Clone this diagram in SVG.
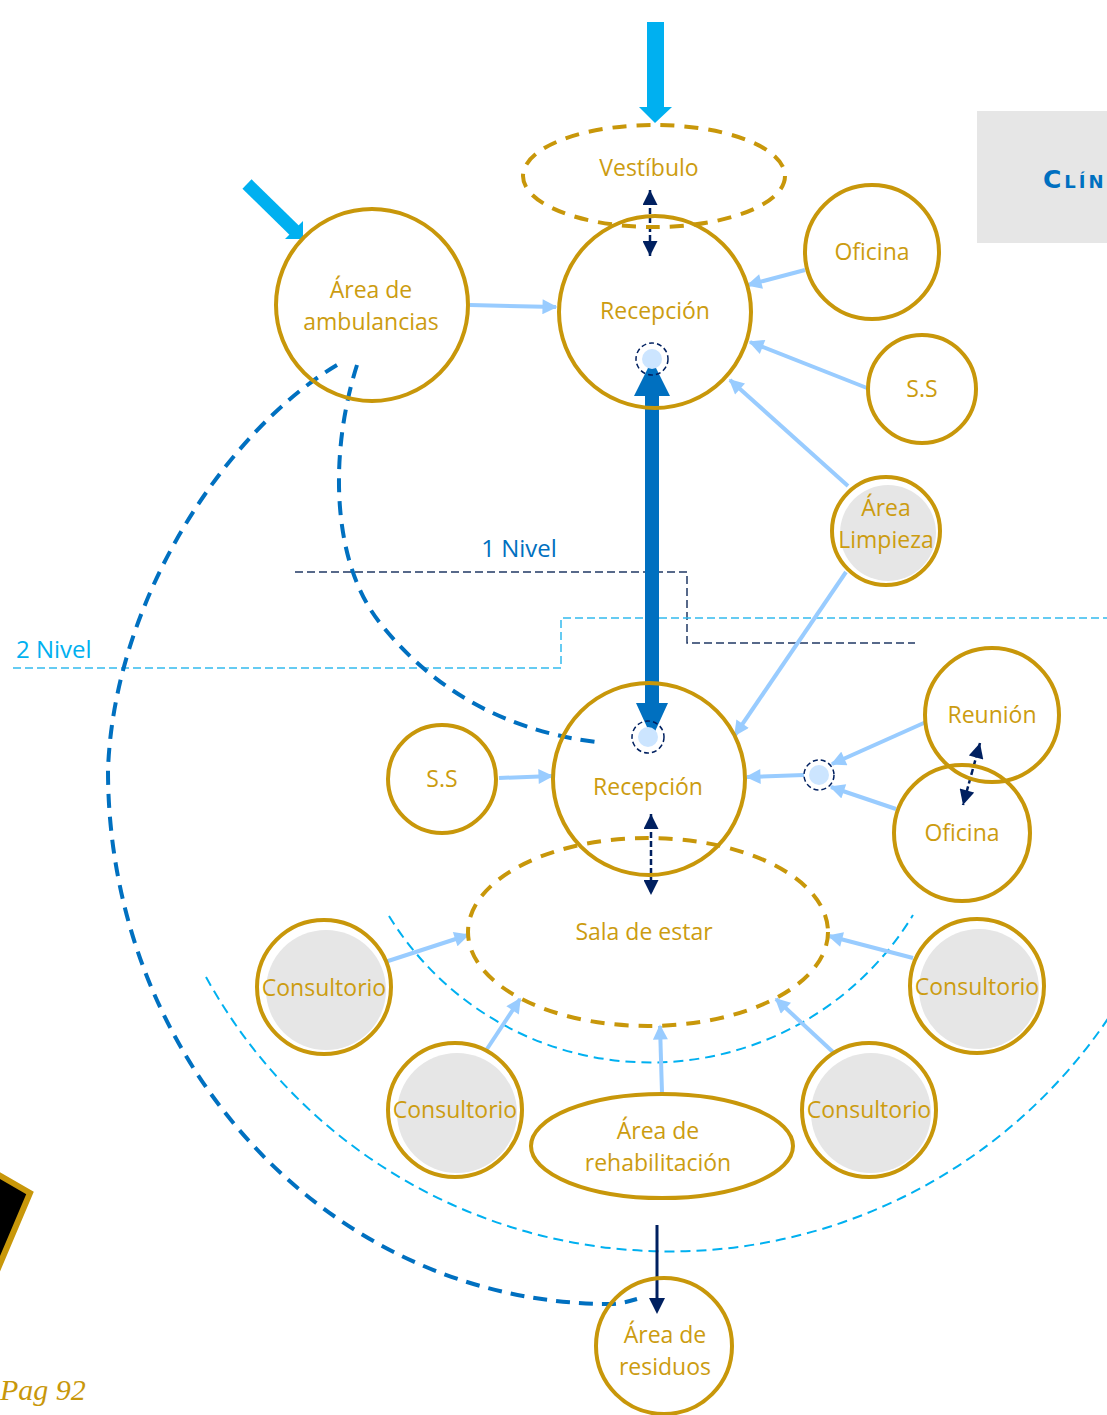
<svg xmlns="http://www.w3.org/2000/svg" width="1107" height="1415" viewBox="0 0 1107 1415">
<style>
.n{fill:none;stroke:#C8970A;stroke-width:4}
.nd{fill:none;stroke:#C8970A;stroke-width:4;stroke-dasharray:14 10}
.g{fill:#E6E6E6}
.t{font-family:"Open Sans","Noto Sans",sans-serif;font-size:23px;fill:#CC9C10;text-anchor:middle}
.lb{fill:none;stroke:#99CCFF;stroke-width:4;marker-end:url(#mlb)}
.nv{fill:none;stroke:#002060;stroke-width:2.5;stroke-dasharray:6 3;marker-start:url(#mnv);marker-end:url(#mnv)}
.tg{fill:none;stroke:#002060;stroke-width:1.5;stroke-dasharray:5 3}
.tf{fill:#CCE5FF}
.arcD{fill:none;stroke:#0070C0;stroke-width:4;stroke-dasharray:14 9}
.arcC{fill:none;stroke:#00B0F0;stroke-width:2;stroke-dasharray:10 6}
</style>
<defs>
<marker id="mlb" viewBox="0 0 10 10" refX="9" refY="5" markerWidth="16" markerHeight="15" markerUnits="userSpaceOnUse" orient="auto"><path d="M0,0 L10,5 L0,10 z" fill="#99CCFF"/></marker>
<marker id="mnv" viewBox="0 0 10 10" refX="10" refY="5" markerWidth="16" markerHeight="15" markerUnits="userSpaceOnUse" orient="auto-start-reverse"><path d="M0,0 L10,5 L0,10 z" fill="#002060"/></marker>
</defs>
<rect width="1107" height="1415" fill="#FFFFFF"/>

<g id="header-box">
<rect x="977" y="111" width="140" height="132" fill="#E6E6E6"/>
<text x="1043" y="188" font-family="DejaVu Sans,sans-serif" font-weight="bold" font-size="25" font-variant="small-caps" letter-spacing="3" fill="#0070C0">Clín</text>
</g>

<g id="page-deco">
<polygon points="-70,1135 30,1193 -12,1292 -110,1235" fill="#000000" stroke="#C8970A" stroke-width="6"/>
<text x="0" y="1400" font-family="Liberation Serif,serif" font-style="italic" font-size="30" fill="#C8970A">Pag 92</text>
</g>

<g id="zones">
<polyline points="295,572 687,572 687,643 915,643" fill="none" stroke="#203864" stroke-width="1.5" stroke-dasharray="8 4"/>
<polyline points="13,668 561,668 561,618 1107,618" fill="none" stroke="#33BBEE" stroke-width="1.5" stroke-dasharray="8 4"/>
<text x="519" y="557" font-family="Open Sans,Noto Sans,sans-serif" font-size="24" fill="#0070C0" text-anchor="middle">1 Nivel</text>
<text x="16" y="658" font-family="Open Sans,Noto Sans,sans-serif" font-size="24" fill="#00B0F0">2 Nivel</text>
<path class="arcD" d="M337,365 C225,432 114,600 108,770 C108,1065 333,1304 610,1304 C620,1304 630,1301 637,1299"/>
<path class="arcD" d="M357,365 C330,450 330,560 380,623 S500,730 596,742"/>
<path class="arcC" d="M389,916 A307,307 0 0 0 913,915"/>
<path class="arcC" d="M206,977 A529,529 0 0 0 1115,1008"/>
</g>

<g id="connectors">
<polygon points="647,22 664,22 664,107 672,107 655,123 639,107 647,107" fill="#00B0F0"/>
<line x1="247" y1="184" x2="295" y2="231" stroke="#00B0F0" stroke-width="13"/>
<polygon points="285,239 303,239 303,221" fill="#00B0F0"/>
<polygon points="652,360 670,396 659,396 659,703 668,703 652,738 636,703 645,703 645,396 634,396" fill="#0070C0"/>
<line class="nv" x1="650" y1="190" x2="650" y2="256"/>
<line class="nv" x1="651" y1="814" x2="651" y2="895"/>
<line class="nv" x1="980" y1="743" x2="963" y2="805"/>
<line x1="657" y1="1225" x2="657" y2="1300" stroke="#002060" stroke-width="3"/>
<polygon points="649,1298 665,1298 657,1314" fill="#002060"/>
<line class="lb" x1="470" y1="305" x2="556" y2="307"/>
<line class="lb" x1="805" y1="270" x2="748" y2="285"/>
<line class="lb" x1="867" y1="388" x2="750" y2="342"/>
<line class="lb" x1="848" y1="486" x2="730" y2="380"/>
<line class="lb" x1="846" y1="572" x2="735" y2="735"/>
<line class="lb" x1="499" y1="778" x2="552" y2="776"/>
<line class="lb" x1="926" y1="722" x2="832" y2="764"/>
<line class="lb" x1="896" y1="809" x2="831" y2="787"/>
<line class="lb" x1="804" y1="775" x2="747" y2="777"/>
<line class="lb" x1="385" y1="962" x2="468" y2="935"/>
<line class="lb" x1="487" y1="1049" x2="520" y2="999"/>
<line class="lb" x1="662" y1="1093" x2="660" y2="1026"/>
<line class="lb" x1="834" y1="1053" x2="776" y2="999"/>
<line class="lb" x1="913" y1="958" x2="829" y2="936"/>
<circle class="tf" cx="652" cy="359" r="10"/><circle class="tg" cx="652" cy="359" r="16"/>
<circle class="tf" cx="648" cy="737" r="10"/><circle class="tg" cx="648" cy="737" r="16"/>
<circle class="tf" cx="819" cy="775" r="10"/><circle class="tg" cx="819" cy="775" r="15"/>
</g>

<g id="vestibulo"><ellipse class="nd" cx="654" cy="176" rx="131" ry="51"/><text class="t" x="649" y="176">Vestíbulo</text></g>
<g id="recepcion-1"><circle class="n" cx="655" cy="312" r="96"/><text class="t" x="655" y="319">Recepción</text></g>
<g id="ambulancias"><circle class="n" cx="372" cy="305" r="96"/><text class="t" x="371" y="298">Área de</text><text class="t" x="371" y="330">ambulancias</text></g>
<g id="oficina-1"><circle class="n" cx="872" cy="252" r="67"/><text class="t" x="872" y="260">Oficina</text></g>
<g id="ss-1"><circle class="n" cx="922" cy="389" r="54"/><text class="t" x="922" y="397">S.S</text></g>
<g id="limpieza"><circle class="g" cx="888" cy="533" r="48"/><circle class="n" cx="886" cy="531" r="54"/><text class="t" x="886" y="516">Área</text><text class="t" x="886" y="548">Limpieza</text></g>
<g id="recepcion-2"><circle class="n" cx="649" cy="779" r="96"/><text class="t" x="648" y="795">Recepción</text></g>
<g id="ss-2"><circle class="n" cx="442" cy="779" r="54"/><text class="t" x="442" y="787">S.S</text></g>
<g id="reunion"><circle class="n" cx="992" cy="715" r="67"/><text class="t" x="992" y="723">Reunión</text></g>
<g id="oficina-2"><circle class="n" cx="962" cy="833" r="68"/><text class="t" x="962" y="841">Oficina</text></g>
<g id="sala"><ellipse class="nd" cx="648" cy="932" rx="180" ry="94"/><text class="t" x="644" y="940">Sala de estar</text></g>
<g id="consultorio-1"><circle class="g" cx="326" cy="990" r="60"/><circle class="n" cx="324" cy="987" r="67"/><text class="t" x="324" y="996">Consultorio</text></g>
<g id="consultorio-2"><circle class="g" cx="457" cy="1113" r="60"/><circle class="n" cx="455" cy="1110" r="67"/><text class="t" x="455" y="1118">Consultorio</text></g>
<g id="consultorio-3"><circle class="g" cx="871" cy="1113" r="60"/><circle class="n" cx="869" cy="1110" r="67"/><text class="t" x="869" y="1118">Consultorio</text></g>
<g id="consultorio-4"><circle class="g" cx="979" cy="989" r="60"/><circle class="n" cx="977" cy="986" r="67"/><text class="t" x="977" y="995">Consultorio</text></g>
<g id="rehabilitacion"><ellipse class="n" cx="662" cy="1146" rx="131" ry="52"/><text class="t" x="658" y="1139">Área de</text><text class="t" x="658" y="1171">rehabilitación</text></g>
<g id="residuos"><circle class="n" cx="664" cy="1346" r="68"/><text class="t" x="665" y="1343">Área de</text><text class="t" x="665" y="1375">residuos</text></g>
</svg>
